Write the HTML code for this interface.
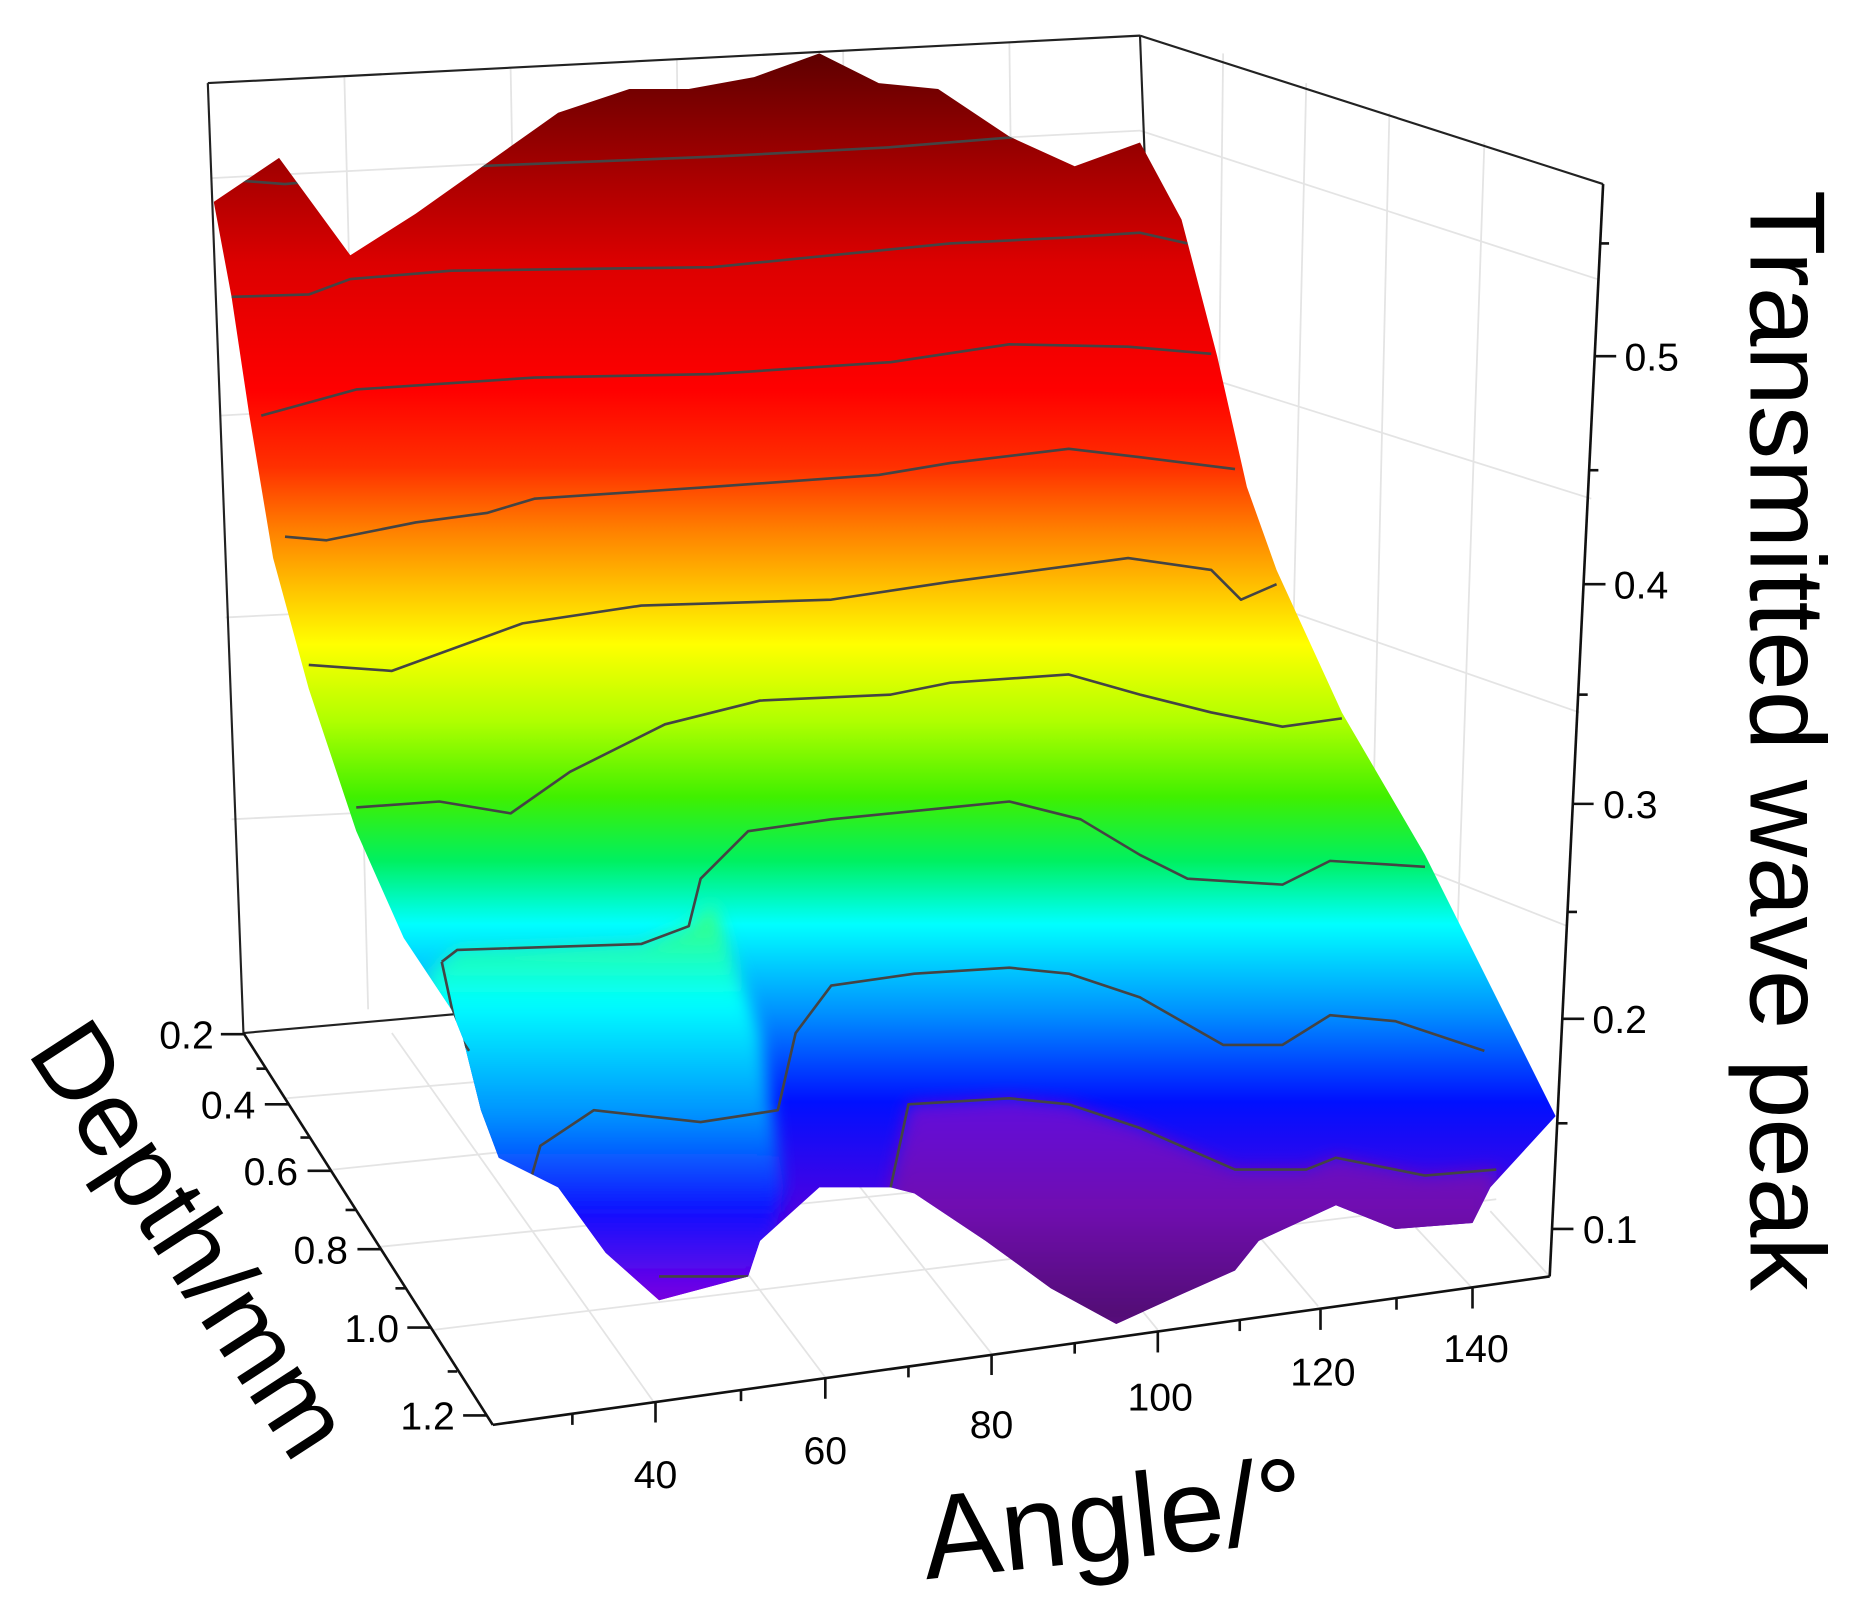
<!DOCTYPE html>
<html><head><meta charset="utf-8"><style>
html,body{margin:0;padding:0;background:#fff;}
svg{display:block;}
text{font-family:"Liberation Sans",Arial,sans-serif;fill:#000;}
</style></head><body>
<svg width="1862" height="1603" viewBox="0 0 1568 1350" preserveAspectRatio="none" xmlns="http://www.w3.org/2000/svg">
<defs>
<linearGradient id="g" x1="0" y1="40" x2="0" y2="1110" gradientUnits="userSpaceOnUse">
<stop offset="0" stop-color="#5a0000"/>
<stop offset="0.09" stop-color="#a00000"/>
<stop offset="0.17" stop-color="#dc0000"/>
<stop offset="0.27" stop-color="#ff0000"/>
<stop offset="0.33" stop-color="#ff3000"/>
<stop offset="0.38" stop-color="#ff8000"/>
<stop offset="0.43" stop-color="#ffc800"/>
<stop offset="0.47" stop-color="#ffff00"/>
<stop offset="0.53" stop-color="#b0ff00"/>
<stop offset="0.59" stop-color="#40f000"/>
<stop offset="0.64" stop-color="#00f060"/>
<stop offset="0.69" stop-color="#00ffff"/>
<stop offset="0.76" stop-color="#0090ff"/>
<stop offset="0.83" stop-color="#0010ff"/>
<stop offset="0.92" stop-color="#5000e0"/>
<stop offset="1" stop-color="#8000c0"/>
</linearGradient>
<linearGradient id="gl" x1="0" y1="780" x2="0" y2="1100" gradientUnits="userSpaceOnUse">
<stop offset="0" stop-color="#30ff90"/>
<stop offset="0.2" stop-color="#00ffff"/>
<stop offset="0.5" stop-color="#0090ff"/>
<stop offset="0.75" stop-color="#1010ff"/>
<stop offset="1" stop-color="#8000e0"/>
</linearGradient>
<linearGradient id="gb" x1="0" y1="920" x2="0" y2="1115" gradientUnits="userSpaceOnUse">
<stop offset="0" stop-color="#6010e0"/>
<stop offset="0.5" stop-color="#7010b0"/>
<stop offset="1" stop-color="#501070"/>
</linearGradient>
<filter id="bl"><feGaussianBlur stdDeviation="7"/></filter>
<clipPath id="cp"><path d="M180,170 L235,133 L295,215 L350,180 L470,95 L530,75 L580,75 L635,65 L690,45 L740,70 L790,75 L850,115 L905,140 L960,120 L995,185 L1025,300 L1050,410 L1075,480 L1130,600 L1200,720 L1250,820 L1310,940 L1255,1000 L1240,1030 L1175,1035 L1125,1015 L1060,1045 L1040,1070 L995,1090 L940,1115 L885,1085 L830,1045 L770,1005 L750,1000 L690,1000 L640,1045 L630,1075 L555,1095 L510,1055 L470,1000 L420,975 L405,935 L390,875 L380,850 L340,790 L300,700 L260,580 L230,470 L210,350 L195,250 Z"/></clipPath>
</defs>

<g stroke="#e4e4e4" stroke-width="1.5" fill="none">
<line x1="290" y1="65" x2="310" y2="850"/><line x1="430" y1="58" x2="445" y2="845"/>
<line x1="570" y1="50" x2="580" y2="840"/><line x1="710" y1="43" x2="720" y2="835"/>
<line x1="850" y1="36" x2="860" y2="830"/>
<line x1="178" y1="150" x2="960" y2="110"/><line x1="185" y1="350" x2="975" y2="305"/>
<line x1="190" y1="520" x2="985" y2="480"/><line x1="195" y1="690" x2="990" y2="650"/>
<line x1="960" y1="110" x2="1345" y2="235"/><line x1="975" y1="305" x2="1340" y2="420"/>
<line x1="985" y1="480" x2="1330" y2="600"/><line x1="990" y1="650" x2="1320" y2="780"/>
<line x1="1030" y1="45" x2="1020" y2="880"/><line x1="1100" y1="70" x2="1080" y2="920"/>
<line x1="1170" y1="95" x2="1150" y2="960"/><line x1="1250" y1="120" x2="1220" y2="1000"/>
<line x1="240" y1="925" x2="1000" y2="860"/><line x1="280" y1="985" x2="1100" y2="900"/>
<line x1="320" y1="1050" x2="1200" y2="960"/><line x1="365" y1="1120" x2="1260" y2="1010"/>
<line x1="550" y1="1180" x2="330" y2="870"/><line x1="695" y1="1160" x2="470" y2="860"/>
<line x1="835" y1="1140" x2="610" y2="855"/><line x1="975" y1="1120" x2="750" y2="845"/>
<line x1="1110" y1="1100" x2="890" y2="840"/><line x1="1240" y1="1085" x2="1030" y2="860"/>
<line x1="1305" y1="1075" x2="1255" y2="1020"/>
</g>
<g stroke="#222" stroke-width="1.8" fill="none">
<line x1="175" y1="70" x2="205" y2="870"/>
<line x1="175" y1="70" x2="960" y2="30"/>
<line x1="960" y1="30" x2="1350" y2="155"/>
<line x1="960" y1="30" x2="990" y2="800"/>
<line x1="205" y1="870" x2="990" y2="800"/>
</g>

<g clip-path="url(#cp)">
<rect x="150" y="30" width="1200" height="1100" fill="url(#g)"/>
<path d="M360,820 L385,800 L540,795 L580,780 L600,760 L640,870 L660,1000 L640,1100 L350,1100 Z" fill="url(#gl)" filter="url(#bl)"/>
<path d="M750,1000 L765,930 L850,925 L900,930 L960,950 L1040,985 L1100,985 L1125,975 L1200,990 L1260,985 L1260,1120 L740,1120 Z" fill="url(#gb)" filter="url(#bl)"/>
<g stroke="#444" stroke-width="2.2" fill="none" stroke-linejoin="round">
<polyline points="200,152 240,155 400,140 600,132 750,124 860,115"/>
<polyline points="195,250 260,248 295,235 380,228 600,225 800,205 900,200 960,196 1000,205"/>
<polyline points="220,350 300,328 450,318 600,315 750,305 850,290 950,292 1020,298"/>
<polyline points="240,452 275,455 350,440 410,432 450,420 600,410 740,400 800,390 900,378 960,385 1040,395"/>
<polyline points="260,560 330,565 440,525 540,510 700,505 800,490 950,470 1020,480 1045,505 1075,492"/>
<polyline points="300,680 370,675 430,685 480,650 560,610 640,590 750,585 800,575 900,568 960,585 1020,600 1080,612 1130,605"/>
<polyline points="372,810 385,800 540,795 580,780 590,740 630,700 700,690 800,680 850,675 910,690 960,720 1000,740 1080,745 1120,725 1200,730"/>
<polyline points="372,810 385,870 395,885"/>
<polyline points="445,1000 455,965 500,935 590,945 655,935 670,870 700,830 770,820 850,815 900,820 960,840 1030,880 1080,880 1120,855 1175,860 1250,885"/>
<polyline points="750,1000 765,930 850,925 900,930 960,950 1040,985 1100,985 1125,975 1200,990 1260,985"/>
<polyline points="555,1075 630,1075"/>
</g>
</g>

<g stroke="#111" stroke-width="2.2" fill="none">
<line x1="205" y1="870" x2="415" y2="1200"/>
<line x1="415" y1="1200" x2="1305" y2="1075"/>
<line x1="1350" y1="155" x2="1305" y2="1075"/>
<line x1="186" y1="871" x2="206" y2="871"/><line x1="223" y1="930" x2="243" y2="930"/>
<line x1="259" y1="986" x2="279" y2="986"/><line x1="301" y1="1052" x2="321" y2="1052"/>
<line x1="343" y1="1118" x2="363" y2="1118"/><line x1="390" y1="1192" x2="410" y2="1192"/>
<line x1="216" y1="900" x2="224" y2="900"/><line x1="253" y1="958" x2="261" y2="958"/>
<line x1="291" y1="1019" x2="299" y2="1019"/><line x1="333" y1="1085" x2="341" y2="1085"/>
<line x1="377" y1="1155" x2="385" y2="1155"/>
<line x1="552" y1="1181" x2="552" y2="1198"/><line x1="695" y1="1161" x2="695" y2="1178"/>
<line x1="835" y1="1141" x2="835" y2="1158"/><line x1="975" y1="1122" x2="975" y2="1139"/>
<line x1="1112" y1="1103" x2="1112" y2="1120"/><line x1="1240" y1="1085" x2="1240" y2="1102"/>
<line x1="482" y1="1191" x2="482" y2="1200"/><line x1="624" y1="1171" x2="624" y2="1180"/>
<line x1="765" y1="1151" x2="765" y2="1160"/><line x1="905" y1="1131" x2="905" y2="1140"/>
<line x1="1044" y1="1112" x2="1044" y2="1121"/><line x1="1176" y1="1094" x2="1176" y2="1103"/>
<line x1="1343" y1="300" x2="1361" y2="300"/><line x1="1334" y1="492" x2="1352" y2="492"/>
<line x1="1324" y1="677" x2="1342" y2="677"/><line x1="1316" y1="858" x2="1334" y2="858"/>
<line x1="1307" y1="1035" x2="1325" y2="1035"/>
<line x1="1347" y1="205" x2="1355" y2="205"/><line x1="1338" y1="396" x2="1346" y2="396"/>
<line x1="1329" y1="585" x2="1337" y2="585"/><line x1="1320" y1="768" x2="1328" y2="768"/>
<line x1="1312" y1="946" x2="1320" y2="946"/>
</g>

<g font-size="33">
<text x="1368" y="312">0.5</text><text x="1359" y="504">0.4</text>
<text x="1350" y="689">0.3</text><text x="1341" y="870">0.2</text>
<text x="1333" y="1047">0.1</text>
<g text-anchor="end">
<text x="180" y="883">0.2</text><text x="215" y="942">0.4</text>
<text x="251" y="998">0.6</text><text x="293" y="1064">0.8</text>
<text x="336" y="1130">1.0</text><text x="383" y="1204">1.2</text>
</g>
<g text-anchor="middle">
<text x="552" y="1253">40</text><text x="695" y="1233">60</text>
<text x="835" y="1211">80</text><text x="977" y="1188">100</text>
<text x="1114" y="1167">120</text><text x="1243" y="1147">140</text>
</g>
</g>

<text font-size="90" transform="translate(22,886) rotate(57)">Depth/mm</text>
<text font-size="100" transform="translate(780,1330) rotate(-6)">Angle/°</text>
<text font-size="90" transform="translate(1474,160) rotate(90)">Transmitted wave peak</text>
</svg>
</body></html>
